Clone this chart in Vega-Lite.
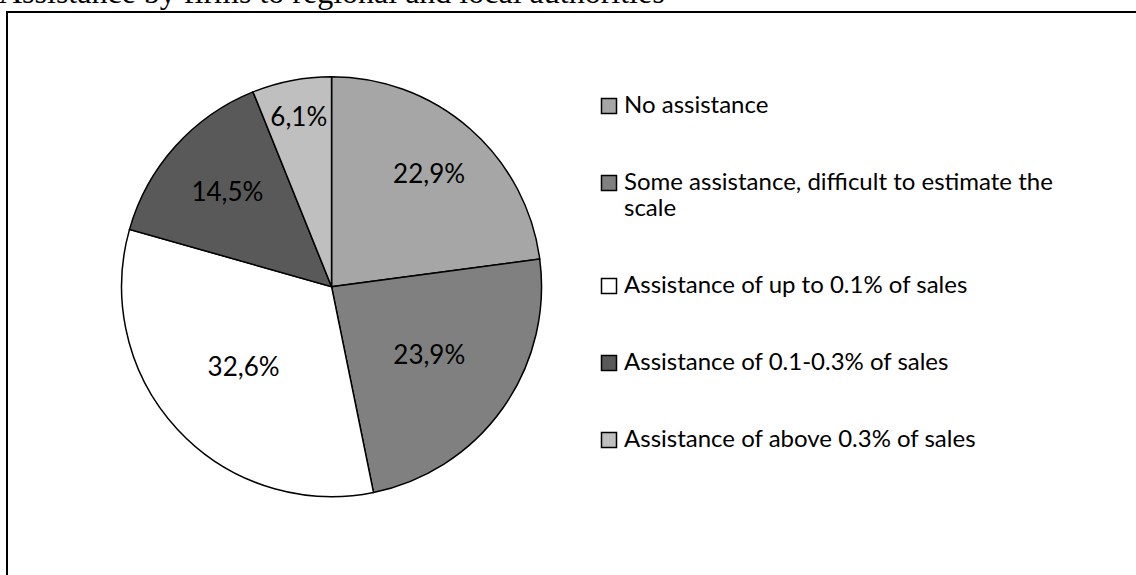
{
  "$schema": "https://vega.github.io/schema/vega-lite/v6.json",
  "autosize": "none",
  "padding": {"left": 7, "top": 12, "right": 0, "bottom": 0},
  "width": 1134,
  "height": 570,
  "background": "white",
  "title": {
    "text": "Assistance by firms to regional and local authorities",
    "font": "Liberation Serif",
    "fontSize": 32,
    "fontWeight": "normal",
    "color": "black",
    "anchor": "start",
    "frame": "group",
    "baseline": "alphabetic",
    "offset": -23,
    "dx": -8
  },
  "config": {
    "view": {"stroke": "black", "strokeWidth": 2},
    "locale": {
      "number": {"decimal": ",", "thousands": ".", "grouping": [3], "currency": ["", " €"]}
    }
  },
  "data": {
    "values": [
      {"idx": 1, "category": "No assistance", "share": 0.229},
      {"idx": 2, "category": "Some assistance, difficult to estimate the scale", "share": 0.239},
      {"idx": 3, "category": "Assistance of up to 0.1% of sales", "share": 0.326},
      {"idx": 4, "category": "Assistance of  0.1-0.3% of sales", "share": 0.145},
      {"idx": 5, "category": "Assistance of above 0.3% of sales", "share": 0.061}
    ]
  },
  "encoding": {
    "theta": {"field": "share", "type": "quantitative", "stack": true},
    "order": {"field": "idx", "type": "quantitative"},
    "x": {"datum": 0.2862, "type": "quantitative", "scale": {"domain": [0, 1], "nice": false, "zero": false}, "axis": null},
    "y": {"datum": 0.4819, "type": "quantitative", "scale": {"domain": [0, 1], "nice": false, "zero": false, "reverse": true}, "axis": null}
  },
  "layer": [
    {
      "mark": {"type": "arc", "outerRadius": 210, "stroke": "black", "strokeWidth": 1.5, "opacity": 1},
      "encoding": {
        "color": {
          "field": "category",
          "type": "nominal",
          "sort": null,
          "scale": {
            "domain": [
              "No assistance",
              "Some assistance, difficult to estimate the scale",
              "Assistance of up to 0.1% of sales",
              "Assistance of  0.1-0.3% of sales",
              "Assistance of above 0.3% of sales"
            ],
            "range": ["#a6a6a6", "#808080", "#ffffff", "#595959", "#bfbfbf"]
          },
          "legend": {
            "title": null,
            "orient": "none",
            "legendX": 590,
            "legendY": 82,
            "symbolType": "square",
            "symbolSize": 225,
            "symbolStrokeColor": "black",
            "symbolStrokeWidth": 1.5,
            "symbolOpacity": 1,
            "labelFont": "Lato",
            "labelFontSize": 24,
            "labelColor": "black",
            "labelOffset": 3,
            "labelLimit": 600,
            "rowPadding": 53,
            "labelExpr": "datum.label == 'Some assistance, difficult to estimate the scale' ? ['Some assistance, difficult to estimate the', 'scale'] : datum.label"
          }
        }
      }
    },
    {
      "mark": {"type": "text", "radius": {"expr": "datum.idx == 5 ? 172 : datum.idx == 1 ? 148 : datum.idx == 4 ? 140 : 120"}, "font": "Lato", "fontSize": 26, "color": "black"},
      "encoding": {
        "text": {"field": "share", "type": "quantitative", "format": ".1%"}
      }
    }
  ]
}
